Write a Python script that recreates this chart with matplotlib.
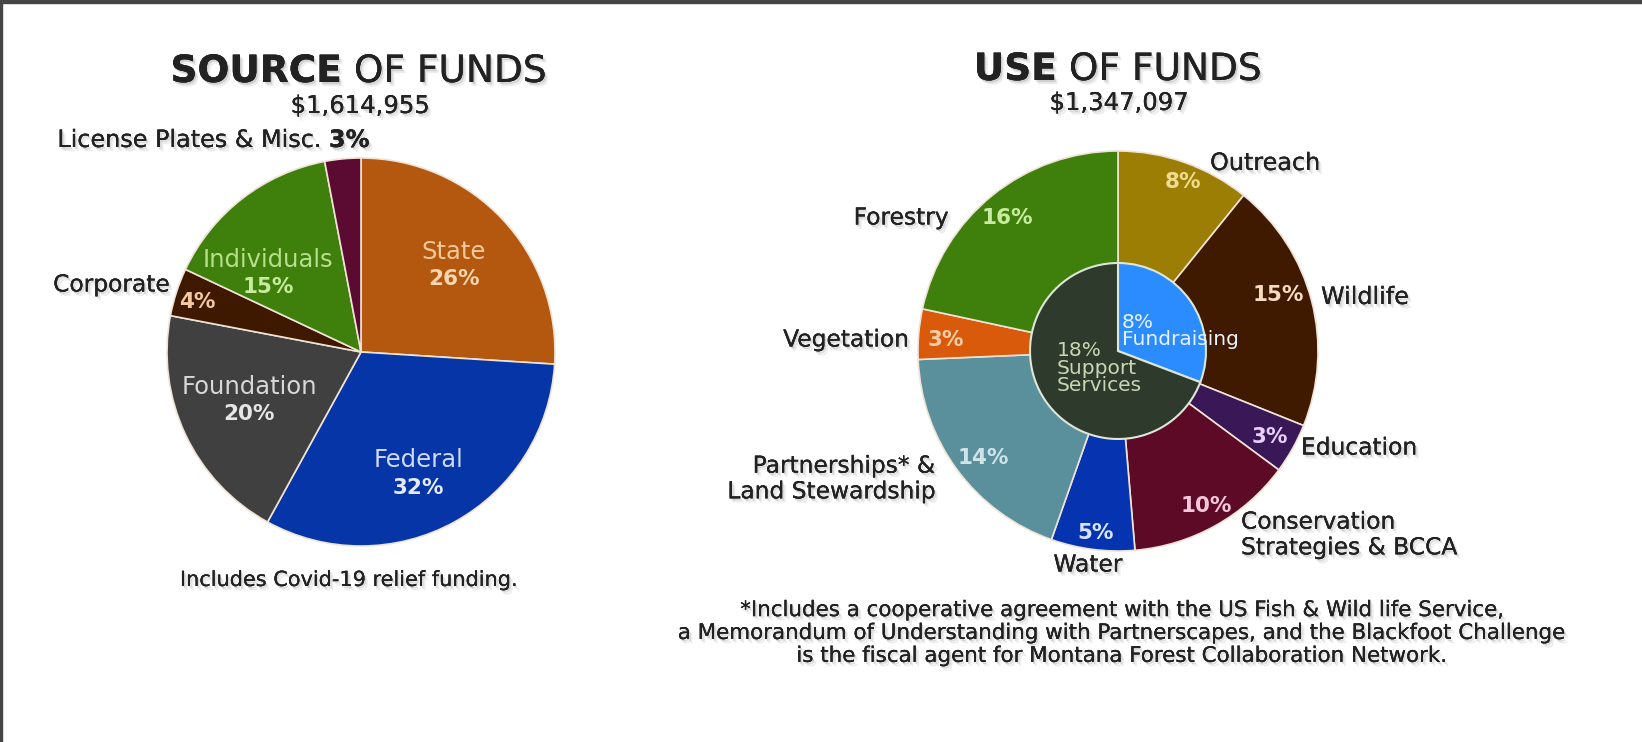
import matplotlib
matplotlib.use("Agg")
import matplotlib.pyplot as plt
import matplotlib.patheffects as pe
from matplotlib.patches import Rectangle

plt.rcParams['font.family'] = ['DejaVu Sans']

# source of funds
src_labels = ["State", "Federal", "Foundation", "Corporate", "Individuals", "License Plates & Misc."]
src_values = [26, 32, 20, 4, 15, 3]
src_colors = ["#B4580F", "#0535A6", "#404040", "#3F1800", "#3F7F0C", "#5B0A32"]
src_total = "$1,614,955"

# use of funds, outer ring
use_labels = ["Outreach", "Wildlife", "Education", "Conservation\nStrategies & BCCA", "Water",
              "Partnerships* &\nLand Stewardship", "Vegetation", "Forestry"]
use_values = [8, 15, 3, 10, 5, 14, 3, 16]
use_colors = ["#9C7E04", "#3F1A00", "#3A1858", "#5D0A26", "#0633B0", "#5A8F9C", "#D85A0A", "#3F7F0C"]

# use of funds, inner circle
inner_labels = ["Fundraising", "Support\nServices"]
inner_values = [8, 18]
inner_colors = ["#2B8CFF", "#2E3B2C"]
use_total = "$1,347,097"

W, H = 1642, 742
fig = plt.figure(figsize=(W / 100, H / 100), dpi=100)
ax = fig.add_axes([0, 0, 1, 1])

edge = dict(edgecolor="#EFE3D6", linewidth=1.2)
ax.pie(src_values, colors=src_colors, center=(361, 352), radius=194,
       startangle=-90, counterclock=True, wedgeprops=edge)
ax.pie(use_values, colors=use_colors, center=(1118, 351), radius=200,
       startangle=-90, counterclock=True, wedgeprops=edge)
ax.pie(inner_values, colors=inner_colors, center=(1118, 351), radius=88,
       startangle=-90, counterclock=True, wedgeprops=dict(edgecolor="#DDE6D8", linewidth=1.5))

ax.set_aspect("auto")
ax.set_xlim(0, W)
ax.set_ylim(H, 0)
ax.axis("off")

# soft drop shadow under the dark texts
shadow = [pe.withSimplePatchShadow(offset=(2.5, -3), shadow_rgbFace="#999999", alpha=0.18),
          pe.withSimplePatchShadow(offset=(1.2, -1.6), shadow_rgbFace="#888888", alpha=0.28),
          pe.Normal()]

LBL = 16.8
PCT = 15.5


def txt(x, y, s, size=LBL, color="#222222", weight="normal", ha="center", sh=True, **kw):
    ax.text(x, y, s, fontsize=size, color=color, fontweight=weight, ha=ha, va="center",
            path_effects=shadow if sh else None, **kw)


# titles
txt(342, 72, "SOURCE", size=27, weight="bold", ha="right")
txt(342, 72, " OF FUNDS", size=27, ha="left")
txt(360, 106, src_total, size=17.5)
txt(1057, 70, "USE", size=27, weight="bold", ha="right")
txt(1057, 70, " OF FUNDS", size=27, ha="left")
txt(1119, 103, use_total, size=17.5)

# source labels
txt(329, 140, src_labels[5] + " ", size=17.2, ha="right")
txt(329, 140, "3%", size=17.2, weight="bold", ha="left")
txt(170, 285, src_labels[3], ha="right")
txt(197, 302, "4%", size=PCT, color="#F2C9A0", weight="bold", sh=False)
txt(268, 260, src_labels[4], size=17.5, color="#B8E08C", sh=False)
txt(268, 287, "15%", size=PCT, color="#C8EBA0", weight="bold", sh=False)
txt(454, 252, src_labels[0], size=17.5, color="#F5C89A", sh=False)
txt(454, 279, "26%", size=PCT, color="#F8D6B0", weight="bold", sh=False)
txt(249, 387, src_labels[2], size=17.5, color="#D8D8D8", sh=False)
txt(249, 414, "20%", size=PCT, color="#E6E6E6", weight="bold", sh=False)
txt(418, 460, src_labels[1], size=17.5, color="#D0DAF5", sh=False)
txt(418, 488, "32%", size=PCT, color="#E4EAFA", weight="bold", sh=False)
txt(349, 580, "Includes Covid-19 relief funding.", size=15)

# use labels
txt(1210, 163, use_labels[0], size=17.2, ha="left")
txt(1183, 182, "8%", size=PCT, color="#F0DC90", weight="bold", sh=False)
txt(1321, 297, use_labels[1], size=17.2, ha="left")
txt(1278, 295, "15%", size=PCT, color="#F5DCC0", weight="bold", sh=False)
txt(1301, 448, use_labels[2], ha="left")
txt(1270, 437, "3%", size=PCT, color="#E8D0F8", weight="bold", sh=False)
txt(1241, 535, use_labels[3], ha="left", linespacing=1.15)
txt(1206, 506, "10%", size=PCT, color="#F2C8D8", weight="bold", sh=False)
txt(1088, 565, use_labels[4])
txt(1096, 533, "5%", size=PCT, color="#D8E4FF", weight="bold", sh=False)
txt(936, 479, use_labels[5], ha="right", linespacing=1.15)
txt(983, 458, "14%", size=PCT, color="#CFE3EA", weight="bold", sh=False)
txt(909, 340, use_labels[6], ha="right")
txt(946, 340, "3%", size=PCT, color="#F8CCA6", weight="bold", sh=False)
txt(949, 218, use_labels[7], ha="right")
txt(1007, 218, "16%", size=PCT, color="#C8EBA0", weight="bold", sh=False)

# inner labels
txt(1122, 331, "8%\n" + inner_labels[0], size=14.5, color="#EAF2FF", ha="left",
    sh=False, linespacing=0.9)
txt(1057, 368, "18%\n" + inner_labels[1], size=14.5, color="#C8D6B4", ha="left",
    sh=False, linespacing=0.9)

# footnote
foot = ("*Includes a cooperative agreement with the US Fish & Wild life Service,\n"
        "a Memorandum of Understanding with Partnerscapes, and the Blackfoot Challenge\n"
        "is the fiscal agent for Montana Forest Collaboration Network.")
txt(1121, 633, foot, size=15.4, linespacing=1.18)

# frame on top and left edges
fig.patches.append(Rectangle((0, 1 - 3 / H), 1, 3 / H, transform=fig.transFigure, color="#454545"))
fig.patches.append(Rectangle((0, 0), 2 / W, 1, transform=fig.transFigure, color="#454545"))

fig.savefig("out.png", dpi=100)
